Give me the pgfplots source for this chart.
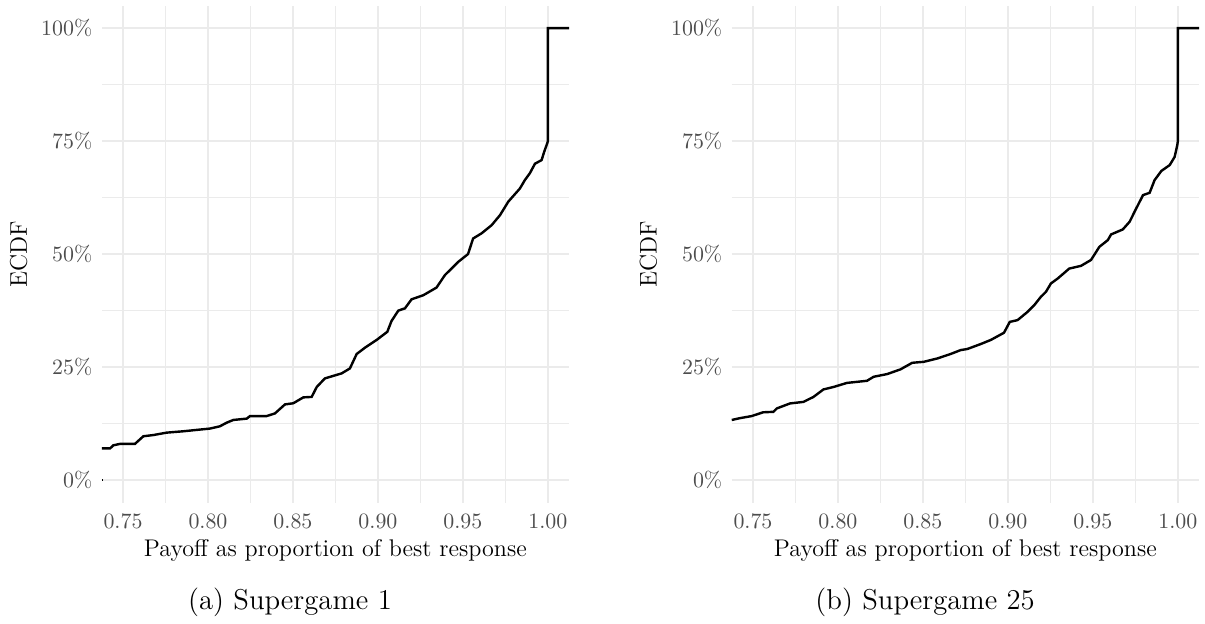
\documentclass[border=0pt]{standalone}
\usepackage{pgfplots}
\pgfplotsset{compat=1.18}
\definecolor{gridc}{HTML}{EBEBEB}
\definecolor{tickc}{HTML}{4D4D4D}
\pgfplotsset{
  ecdfstyle/.style={
    scale only axis, width=213.4pt, height=227.0pt,
    xmin=0.7375, xmax=1.0125, ymin=-0.05, ymax=1.05,
    axis line style={draw=none},
    major tick length=0pt, minor tick length=0pt,
    xtick={0.75,0.80,0.85,0.90,0.95,1.00},
    xticklabels={0.75,0.80,0.85,0.90,0.95,1.00},
    ytick={0,0.25,0.5,0.75,1},
    yticklabels={0\%,25\%,50\%,75\%,100\%},
    minor xtick={0.775,0.825,0.875,0.925,0.975},
    minor ytick={0.125,0.375,0.625,0.875},
    grid=both,
    major grid style={color=gridc, line width=0.9pt},
    minor grid style={color=gridc, line width=0.45pt},
    tick label style={color=tickc, font=\fontsize{10}{12}\selectfont},
    xticklabel style={yshift=-1.6pt},
    yticklabel style={xshift=-0.8pt},
    xlabel={Payoff as proportion of best response},
    ylabel={ECDF},
    label style={font=\fontsize{11}{13}\selectfont},
    xlabel style={at={(axis description cs:0.5,0)}, anchor=center, yshift=-21.6pt},
    ylabel style={at={(axis description cs:0,0.5)}, anchor=center, yshift=38pt},
    clip=true,
  }
}
\begin{document}
\begin{tikzpicture}
\useasboundingbox (0,0) rectangle (550.2pt,284.5pt);
\begin{axis}[ecdfstyle, at={(46.46pt,54.98pt)}, anchor=south west]
\addplot[black, line width=1.1pt] coordinates {(0.7375,0) (0.7383,0)};
\addplot[black, line width=1.1pt] coordinates {
(0.7375,0.070) (0.7424,0.070) (0.7443,0.077) (0.7482,0.080) (0.757,0.080)
(0.762,0.097) (0.7678,0.0996) (0.7757,0.105) (0.7855,0.108) (0.7933,0.111)
(0.8012,0.114) (0.807,0.119) (0.811,0.127) (0.8149,0.133) (0.8228,0.136)
(0.8247,0.1416) (0.8345,0.1416) (0.8394,0.1475) (0.8453,0.1674) (0.8502,0.170)
(0.8561,0.183) (0.861,0.184) (0.864,0.206) (0.8688,0.225) (0.8786,0.236)
(0.8835,0.247) (0.8875,0.279) (0.8924,0.293) (0.8992,0.310) (0.9055,0.328)
(0.908,0.352) (0.912,0.375) (0.9159,0.380) (0.9198,0.400) (0.9267,0.409)
(0.9345,0.426) (0.9394,0.4535) (0.9433,0.468) (0.9473,0.483) (0.953,0.500)
(0.956,0.5345) (0.961,0.546) (0.9669,0.564) (0.9718,0.586) (0.9767,0.616)
(0.9835,0.645) (0.9865,0.664) (0.9894,0.679) (0.9924,0.700) (0.9963,0.708)
(0.9978,0.726) (0.9996,0.745) (1.0,0.75) (1.0,1.0) (1.0125,1.0)
};
\end{axis}
\begin{axis}[ecdfstyle, at={(334.1pt,54.98pt)}, anchor=south west]
\addplot[black, line width=1.1pt] coordinates {
(0.7375,0.133) (0.7423,0.137) (0.7492,0.1416) (0.756,0.150) (0.762,0.151)
(0.764,0.1585) (0.7718,0.1696) (0.7797,0.173) (0.7856,0.184) (0.7915,0.2006)
(0.7974,0.206) (0.8053,0.215) (0.8171,0.2197) (0.821,0.2286) (0.8289,0.2345)
(0.8368,0.245) (0.8437,0.2595) (0.8505,0.2617) (0.8584,0.269) (0.8663,0.279)
(0.8722,0.2876) (0.8761,0.290) (0.884,0.301) (0.8899,0.310) (0.8977,0.326)
(0.9011,0.350) (0.9057,0.354) (0.9115,0.372) (0.9155,0.387) (0.9194,0.4055)
(0.9224,0.4166) (0.9253,0.435) (0.9293,0.446) (0.9361,0.468) (0.943,0.474)
(0.9489,0.487) (0.9538,0.516) (0.9588,0.531) (0.9607,0.5435) (0.9676,0.5546)
(0.9716,0.5715) (0.9755,0.601) (0.9795,0.6305) (0.9834,0.6357) (0.9863,0.6637)
(0.9903,0.684) (0.9952,0.697) (0.9981,0.715) (0.99965,0.741) (1.0,0.75)
(1.0,1.0) (1.0125,1.0)
};
\end{axis}
\node[anchor=base, font=\fontsize{13.1}{15}\selectfont] at (132.4pt,6.2pt) {(a) Supergame 1};
\node[anchor=base, font=\fontsize{13.1}{15}\selectfont] at (422.4pt,6.2pt) {(b) Supergame 25};
\end{tikzpicture}
\end{document}
